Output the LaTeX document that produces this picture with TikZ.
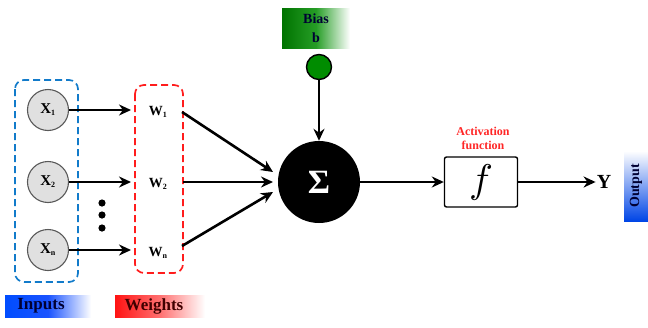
\documentclass[tikz,border=0pt]{standalone}
\usepackage{fontspec}
\setmainfont{Liberation Serif}
\usetikzlibrary{arrows.meta,calc}
\begin{document}
\begin{tikzpicture}[x=1pt,y=-1pt,
  inp/.style={circle,draw=black!65,line width=1.1pt,fill=black!12,minimum size=41pt,inner sep=0pt,font=\bfseries\fontsize{15}{18}\selectfont},
  wt/.style={inner sep=1pt,font=\bfseries\fontsize{14}{17}\selectfont},
  conn/.style={line width=2.6pt,-{Stealth[length=12pt,width=11pt]}},
  grp/.style={dashed,dash pattern=on 7pt off 4pt,line width=1.7pt,rounded corners=9pt},
  lbl/.style={font=\bfseries\fontsize{17}{19}\selectfont,text=black!80!blue,inner sep=0pt}]
\useasboundingbox (0,0) rectangle (648,327);
% groups
\draw[grp,draw=cyan!60!blue] (15,80) rectangle (78,282);
\draw[grp,draw=red!85!pink] (135,85) rectangle (183,273);
\node[inp] (x1) at (48,110) {X\textsubscript{\fontsize{8}{9}\selectfont 1}};
\node[inp] (x2) at (48,182) {X\textsubscript{\fontsize{8}{9}\selectfont 2}};
\node[inp] (xn) at (48,250) {X\textsubscript{\fontsize{8}{9}\selectfont n}};
\node[wt] (w1) at (158,112) {W\textsubscript{\fontsize{8}{9}\selectfont 1}};
\node[wt] (w2) at (158,184) {W\textsubscript{\fontsize{8}{9}\selectfont 2}};
\node[wt] (wn) at (158,253) {W\textsubscript{\fontsize{8}{9}\selectfont n}};
\coordinate (w1r) at (182,112);
\coordinate (w2r) at (183,182);
\coordinate (wnr) at (182,246);
\coordinate (w1l) at (131,110);
\coordinate (w2l) at (131,182);
\coordinate (wnl) at (131,250);
\foreach \y in {203,215,228} \fill (102,\y) circle (3.6pt);
% sum
\node[circle,fill=black,minimum size=82pt,inner sep=0pt,text=white,font=\bfseries\fontsize{34}{36}\selectfont] (sum) at (319,182) {Σ};
% bias
\node[circle,draw=black,line width=1.4pt,fill=green!55!black,minimum size=25pt,inner sep=0pt] (bc) at (319,67) {};
\node[left color=green!45!black,right color=white,middle color=green!55!black!85,minimum width=68pt,minimum height=40pt,inner sep=0pt,align=center,font=\bfseries\fontsize{14}{19}\selectfont,text=black!80!blue] (bias) at (316,28) {Bias\\b};
% activation
\node[draw=black,line width=1.4pt,minimum width=73pt,minimum height=50pt,rounded corners=2pt] (f) at (481,182) {\scalebox{4}{$f$}};
\node[text=red!80!pink,font=\bfseries\fontsize{12}{14}\selectfont,align=center,inner sep=0pt,text width=90pt] (act) at (483,138) {Activation\\function};
\node[font=\bfseries\fontsize{20}{22}\selectfont,inner sep=1pt] (y) at (604,182) {Y};
% output label
\node[bottom color=blue!70!cyan!90!black,top color=white,minimum width=70pt,minimum height=24pt,rotate=90,inner sep=0pt,font=\bfseries\fontsize{14}{16}\selectfont,text=black!80!blue] (out) at (636,186) {Output};
% bottom labels
\node[left color=blue!70!cyan,right color=white,middle color=blue!75!cyan!90,minimum width=86pt,minimum height=22pt,inner sep=0pt] (inb) at (48,306) {};
\node[lbl] (inl) at (41,306) {Inputs};
\node[left color=red!90!pink,right color=white,middle color=red!60!pink!80,minimum width=90pt,minimum height=22pt,inner sep=0pt] (wb) at (160,306) {};
\node[lbl,text=black!75!red] (wl) at (154,306) {Weights};
% connectors
\draw[conn] (x1) -- (w1l);
\draw[conn] (x2) -- (w2l);
\draw[conn] (xn) -- (wnl);
\draw[conn] (w1r) -- ($(sum.center)+(-46,-10)$);
\draw[conn] (w2r) -- ($(sum.center)+(-46,0)$);
\draw[conn] (wnr) -- ($(sum.center)+(-46,10)$);
\draw[conn] (bc) -- (sum);
\draw[conn] (sum) -- (f);
\draw[conn] (f) -- (y);
\end{tikzpicture}
\end{document}
